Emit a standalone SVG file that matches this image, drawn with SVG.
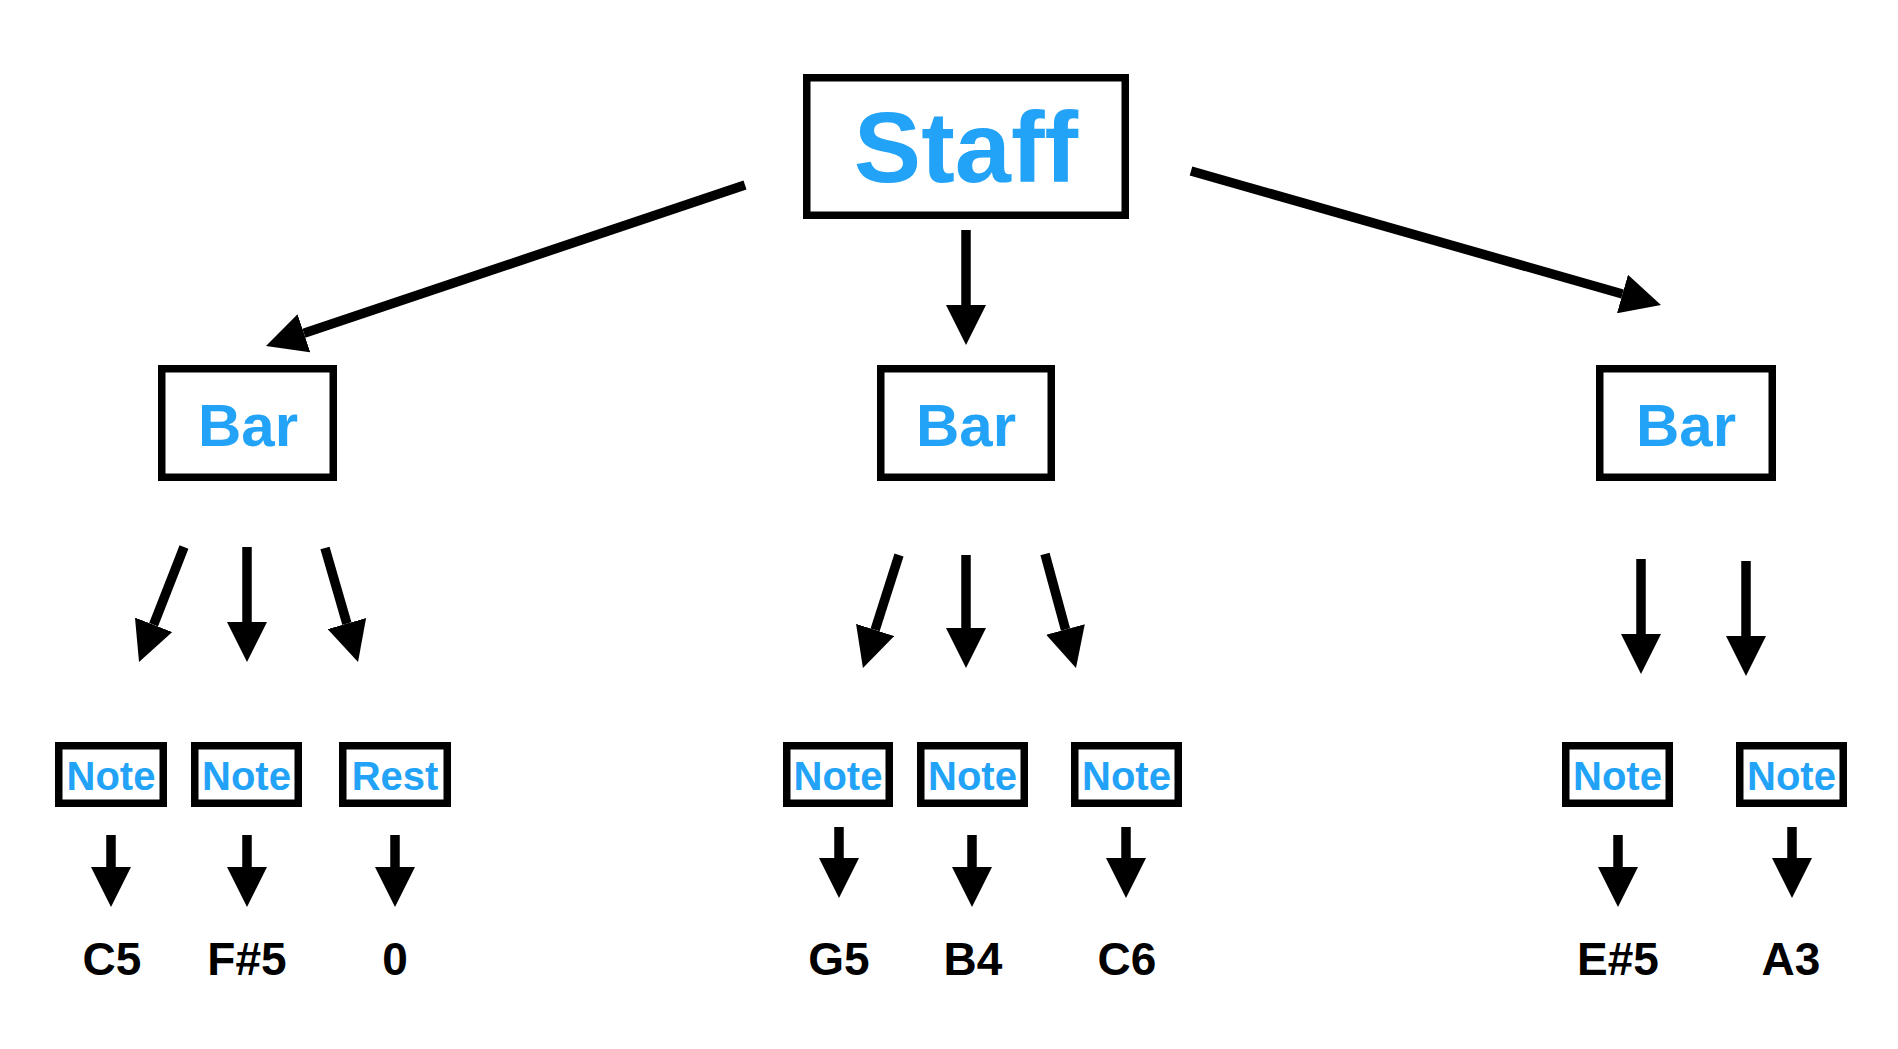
<svg xmlns="http://www.w3.org/2000/svg" width="1898" height="1049" viewBox="0 0 1898 1049">
<style>
  .box { fill: #ffffff; stroke: #000000; stroke-width: 7.5; }
  .lbl { font-family: "Liberation Sans", Arial, Helvetica, sans-serif; font-weight: bold; fill: #22A3F7; text-anchor: middle; }
  .val { font-family: "Liberation Sans", Arial, Helvetica, sans-serif; font-weight: bold; fill: #000000; text-anchor: middle; font-size: 46px; }
  .edge { stroke: #000000; stroke-width: 9.5; fill: none; marker-end: url(#head); }
</style>
<defs>
  <marker id="head" viewBox="0 0 40 40" markerWidth="40" markerHeight="40" markerUnits="userSpaceOnUse" refX="0" refY="20" orient="auto">
    <path d="M0,0 L40,20 L0,40 Z" fill="#000000"/>
  </marker>
</defs>
<rect width="1898" height="1049" fill="#ffffff"/>

<g id="connectors">
  <line class="edge" x1="745" y1="185" x2="303.9" y2="333.3"/>
  <line class="edge" x1="966" y1="230" x2="966" y2="305"/>
  <line class="edge" x1="1191" y1="171" x2="1622.5" y2="294"/>

  <line class="edge" x1="184" y1="547" x2="153.6" y2="624.8"/>
  <line class="edge" x1="247" y1="547" x2="247" y2="622"/>
  <line class="edge" x1="325" y1="548" x2="346.9" y2="623.6"/>

  <line class="edge" x1="899" y1="555" x2="875.1" y2="629.9"/>
  <line class="edge" x1="966" y1="555" x2="966" y2="628"/>
  <line class="edge" x1="1045" y1="554" x2="1065.5" y2="629.4"/>

  <line class="edge" x1="1641" y1="559" x2="1641" y2="634"/>
  <line class="edge" x1="1746" y1="561" x2="1746" y2="636"/>

  <line class="edge" x1="111" y1="835" x2="111" y2="867"/>
  <line class="edge" x1="247" y1="835" x2="247" y2="867"/>
  <line class="edge" x1="395" y1="835" x2="395" y2="867"/>
  <line class="edge" x1="839" y1="827" x2="839" y2="858"/>
  <line class="edge" x1="972" y1="835" x2="972" y2="867"/>
  <line class="edge" x1="1126" y1="827" x2="1126" y2="858"/>
  <line class="edge" x1="1618" y1="835" x2="1618" y2="867"/>
  <line class="edge" x1="1792" y1="827" x2="1792" y2="858"/>
</g>

<g id="staff">
  <rect class="box" x="806.75" y="77.75" width="318.5" height="137.5"/>
  <text class="lbl" x="966" y="182" font-size="101">Staff</text>
</g>

<g id="bar1">
  <rect class="box" x="161.75" y="368.75" width="171.5" height="108.5"/>
  <text class="lbl" x="248" y="446" font-size="60">Bar</text>
</g>
<g id="bar2">
  <rect class="box" x="880.75" y="368.75" width="170.5" height="108.5"/>
  <text class="lbl" x="966" y="446" font-size="60">Bar</text>
</g>
<g id="bar3">
  <rect class="box" x="1599.75" y="368.75" width="172.5" height="108.5"/>
  <text class="lbl" x="1686" y="446" font-size="60">Bar</text>
</g>

<g id="note1">
  <rect class="box" x="58.75" y="745.75" width="104.5" height="57.5"/>
  <text class="lbl" x="111" y="790" font-size="40">Note</text>
</g>
<g id="note2">
  <rect class="box" x="194.75" y="745.75" width="103.5" height="57.5"/>
  <text class="lbl" x="246.5" y="790" font-size="40">Note</text>
</g>
<g id="rest1">
  <rect class="box" x="342.75" y="745.75" width="104.5" height="57.5"/>
  <text class="lbl" x="395" y="790" font-size="40">Rest</text>
</g>
<g id="note3">
  <rect class="box" x="786.75" y="745.75" width="102.5" height="57.5"/>
  <text class="lbl" x="838" y="790" font-size="40">Note</text>
</g>
<g id="note4">
  <rect class="box" x="920.75" y="745.75" width="103.5" height="57.5"/>
  <text class="lbl" x="972.5" y="790" font-size="40">Note</text>
</g>
<g id="note5">
  <rect class="box" x="1074.75" y="745.75" width="103.5" height="57.5"/>
  <text class="lbl" x="1126.5" y="790" font-size="40">Note</text>
</g>
<g id="note6">
  <rect class="box" x="1565.75" y="745.75" width="103.5" height="57.5"/>
  <text class="lbl" x="1617.5" y="790" font-size="40">Note</text>
</g>
<g id="note7">
  <rect class="box" x="1739.75" y="745.75" width="103.5" height="57.5"/>
  <text class="lbl" x="1791.5" y="790" font-size="40">Note</text>
</g>

<g id="values">
  <text class="val" x="112" y="975">C5</text>
  <text class="val" x="247" y="975">F#5</text>
  <text class="val" x="395" y="975">0</text>
  <text class="val" x="839" y="975">G5</text>
  <text class="val" x="973" y="975">B4</text>
  <text class="val" x="1127" y="975">C6</text>
  <text class="val" x="1618" y="975">E#5</text>
  <text class="val" x="1791" y="975">A3</text>
</g>
</svg>
